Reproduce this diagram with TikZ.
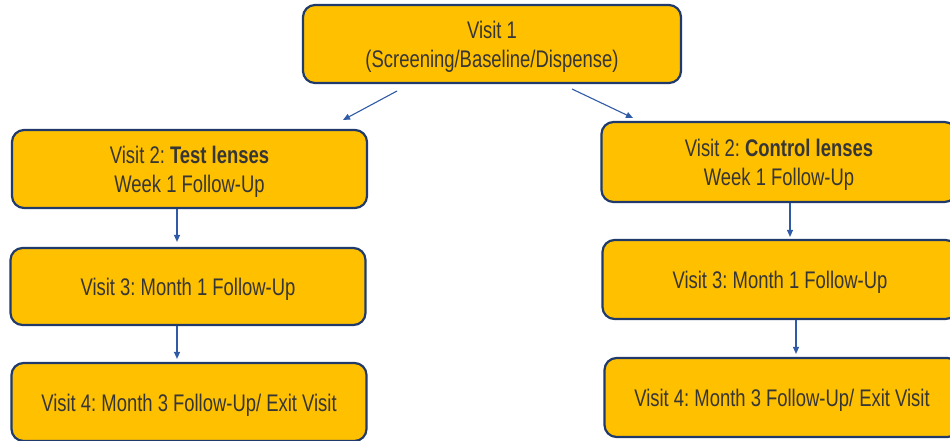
\documentclass[tikz,border=0pt]{standalone}
\usepackage{fontspec}
\setmainfont{Liberation Sans}[FakeStretch=0.768]
\usetikzlibrary{arrows.meta}
\definecolor{gold}{HTML}{FFC000}
\definecolor{navy}{HTML}{1F3A6B}
\definecolor{txt}{HTML}{363636}
\definecolor{arrblue}{HTML}{2E5AA6}
\newcommand{\dn}{\rule{0pt}{23.5pt}}
\frenchspacing
\begin{document}
\begin{tikzpicture}[x=1pt,y=-1pt,
  box/.style={draw=navy, line width=2.2pt, fill=gold, rounded corners=12pt,
    minimum width=355pt, minimum height=78pt, inner sep=0pt, align=center,
    text=txt, font=\fontsize{24}{29}\selectfont},
  arr/.style={draw=arrblue, line width=1.1pt, -{Triangle[length=7pt,width=6pt]}}]
\useasboundingbox (0,0) rectangle (950,440);
\clip (0,0) rectangle (950,440);
\node[box, minimum width=378pt] (v1) at (492,44) {\dn Visit 1\\(Screening/Baseline/Dispense)};
\node[box] (l2) at (189.5,169) {\dn Visit 2: \textbf{Test lenses}\\Week 1 Follow-Up};
\node[box, minimum height=77pt] (l3) at (188,286.5) {\dn Visit 3: Month 1 Follow-Up};
\node[box] (l4) at (189,402) {\dn Visit 4: Month 3 Follow-Up/ Exit Visit};
\node[box, minimum height=80pt] (r2) at (779,162) {\dn Visit 2: \textbf{Control lenses}\\Week 1 Follow-Up};
\node[box, minimum height=79pt] (r3) at (780,279.5) {\dn Visit 3: Month 1 Follow-Up};
\node[box, minimum height=79pt] (r4) at (782,397.5) {\dn Visit 4: Month 3 Follow-Up/ Exit Visit};
\coordinate (ls) at (397,91);
\coordinate (le) at (343,120);
\coordinate (rs) at (572,89);
\coordinate (re) at (633,118);
\draw[arr] (ls) -- (le);
\draw[arr] (rs) -- (re);
\draw[arr] ([xshift=-12.5pt]l2.south) -- ([xshift=-11pt,yshift=5pt]l3.north);
\draw[arr] ([xshift=-11pt]l3.south) -- ([xshift=-12pt,yshift=3pt]l4.north);
\draw[arr] ([xshift=11pt]r2.south) -- ([xshift=10pt,yshift=2pt]r3.north);
\draw[arr] ([xshift=16pt]r3.south) -- ([xshift=14pt,yshift=3pt]r4.north);
\end{tikzpicture}
\end{document}
